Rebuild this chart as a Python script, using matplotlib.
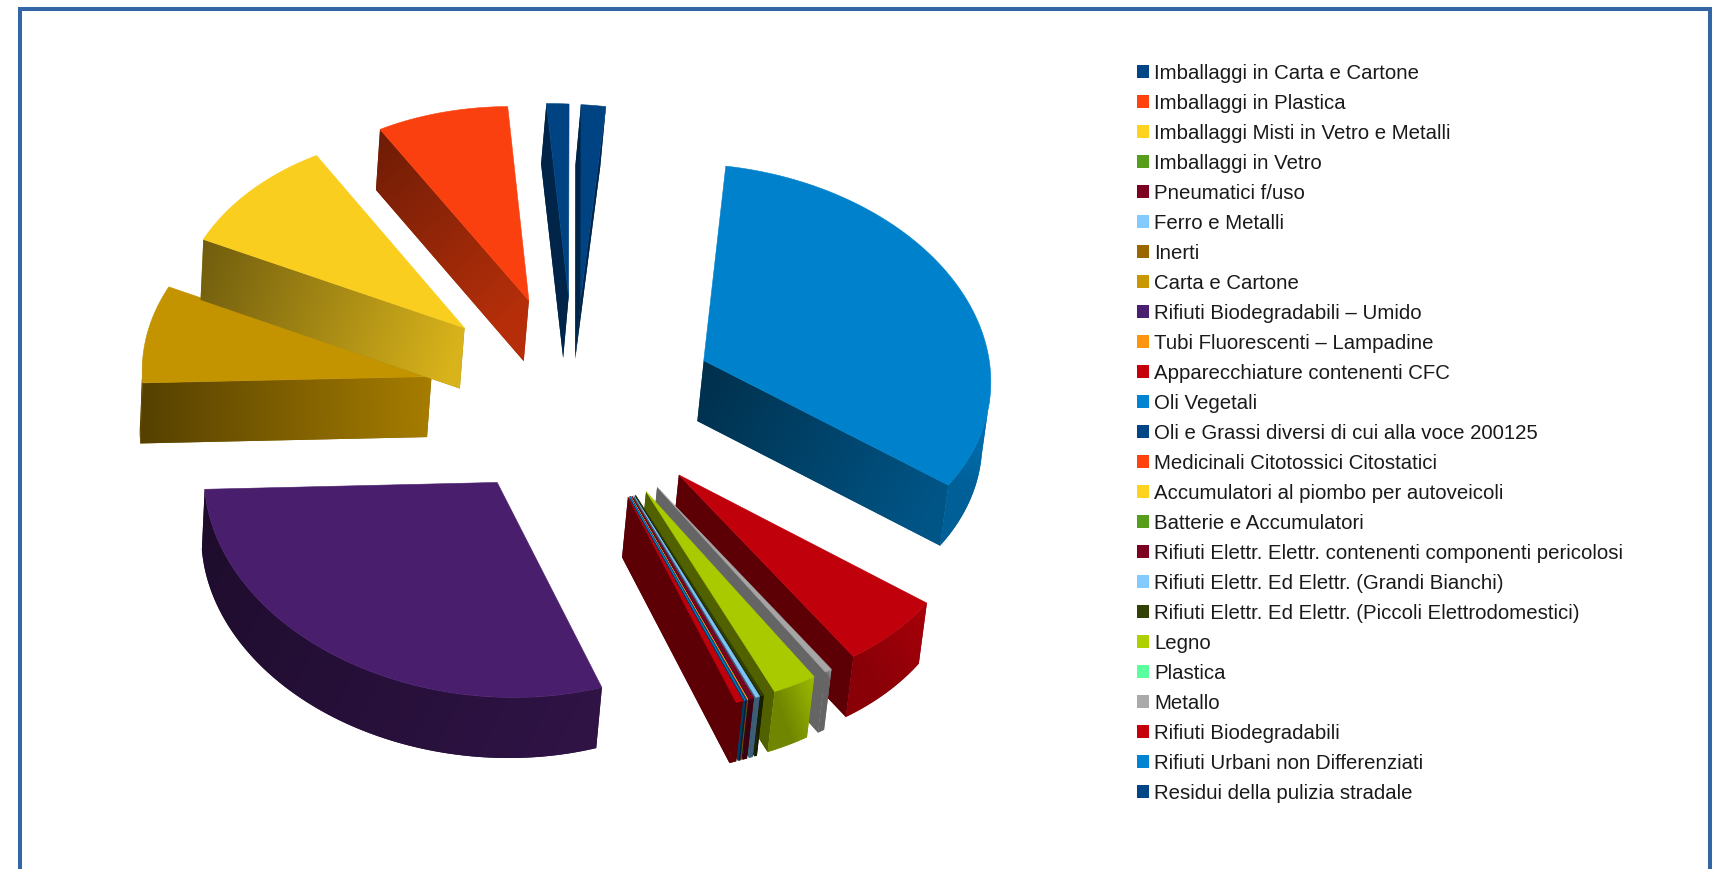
import numpy as np
from matplotlib import pyplot as plt
from matplotlib.colors import to_rgb
from matplotlib.patches import Patch, Polygon

plt.rcParams['font.family'] = ['Liberation Sans', 'DejaVu Sans']

categories = [
  'Imballaggi in Carta e Cartone', 'Imballaggi in Plastica', 'Imballaggi Misti in Vetro e Metalli',
  'Imballaggi in Vetro', 'Pneumatici f/uso', 'Ferro e Metalli', 'Inerti', 'Carta e Cartone',
  'Rifiuti Biodegradabili \u2013 Umido', 'Tubi Fluorescenti \u2013 Lampadine', 'Apparecchiature contenenti CFC',
  'Oli Vegetali', 'Oli e Grassi diversi di cui alla voce 200125', 'Medicinali Citotossici Citostatici',
  'Accumulatori al piombo per autoveicoli', 'Batterie e Accumulatori',
  'Rifiuti Elettr. Elettr. contenenti componenti pericolosi', 'Rifiuti Elettr. Ed Elettr. (Grandi Bianchi)',
  'Rifiuti Elettr. Ed Elettr. (Piccoli Elettrodomestici)', 'Legno', 'Plastica', 'Metallo',
  'Rifiuti Biodegradabili', 'Rifiuti Urbani non Differenziati', 'Residui della pulizia stradale',
]
# share of the total, in percent
values = [
  1.30, 7.73, 9.71, 0, 0, 0, 0, 7.83, 29.23, 0, 0.39, 0.03, 0.06, 0.01, 0.02, 0.02,
  0.26, 0.22, 0.15, 2.45, 0, 0.40, 5.87, 32.88, 1.43,
]
colors = [
  '#004586', '#ff420e', '#ffd320', '#579d1c', '#7e0021', '#83caff', '#996600', '#c99700',
  '#4b1f6f', '#ff950e', '#c5000b', '#0084d1', '#004586', '#ff420e', '#ffd320', '#579d1c',
  '#7e0021', '#83caff', '#314004', '#aecf00', '#5cff9d', '#aaaaaa', '#c5000b', '#0084d1', '#004586',
]

# shading of the walls, dark end to light end: straight wall and curved wall
wall_shade = {
  'Imballaggi in Carta e Cartone': (0.55, 0.55), 'Imballaggi in Plastica': (0.43, 0.71),
  'Imballaggi Misti in Vetro e Metalli': (0.44, 0.85), 'Carta e Cartone': (0.43, 0.83),
  'Rifiuti Urbani non Differenziati': (0.36, 0.65), 'Residui della pulizia stradale': (0.55, 0.55),
  'Metallo': (0.60, 0.60),
}
arc_shade = {
  'Rifiuti Biodegradabili \u2013 Umido': (0.40, 0.62), 'Rifiuti Biodegradabili': (0.70, 0.85),
  'Legno': (0.65, 0.90), 'Metallo': (0.60, 0.95), 'Rifiuti Urbani non Differenziati': (0.72, 0.90),
}

START_ANGLE = 90
EXPLODE = 0.5
DEPTH = 60.5
TOP_SHADE = 0.975
# pie plane to picture pixels
CAMERA = np.array([[289.66, 15.91, 574.23], [14.16, -193.21, 398.30], [0.00102, 0.0271, 1]])


def project(x, y):
  h = CAMERA @ np.array([x, y, np.ones_like(x)])
  return np.column_stack([h[0] / h[2], h[1] / h[2]])


def drop(p):
  # the vertical edges lean a little because of the perspective
  return p + np.column_stack([-1.3 - 0.0073 * p[:, 0], np.full(len(p), DEPTH)])


def draw_wall(ax, top, color, shade, z):
  poly = np.vstack([top, drop(top)[::-1]])
  a, b = top[0], top[-1]
  if a[0] > b[0]:
    a, b = b, a
  x0, y0 = np.floor(poly.min(axis=0)) - 1
  x1, y1 = np.ceil(poly.max(axis=0)) + 1
  X, Y = np.meshgrid(np.arange(x0, x1) + 0.5, np.arange(y0, y1) + 0.5)
  d = b - a
  t = np.clip(((X - a[0]) * d[0] + (Y - a[1]) * d[1]) / max(d @ d, 1), 0, 1)
  rgb = np.clip(np.array(to_rgb(color))[None, None, :] * (shade[0] + (shade[1] - shade[0]) * t)[:, :, None], 0, 1)
  mid = np.array(to_rgb(color)) * (shade[0] + shade[1]) / 2
  ax.add_patch(Polygon(poly, closed=True, fc=mid, ec='none', zorder=z))
  im = ax.imshow(rgb, extent=[x0, x1, y1, y0], aspect='auto', interpolation='bilinear', zorder=z)
  im.set_clip_path(Polygon(poly, closed=True, transform=ax.transData))


fig = plt.figure(figsize=(17.19, 8.69), dpi=100)
ax = fig.add_axes([0, 0, 1, 1])

edges = START_ANGLE + np.r_[0, np.cumsum(values)] / np.sum(values) * 360

# later slices first, so that the earlier ones lie on top of them
for i in reversed(range(len(values))):
  if values[i] == 0:
    continue
  a0, a1 = np.radians(edges[i]), np.radians(edges[i + 1])
  mid = (a0 + a1) / 2
  n = max(3, int(np.degrees(a1 - a0)) + 2)
  ang = np.linspace(a0, a1, n)
  ox, oy = EXPLODE * np.cos(mid), EXPLODE * np.sin(mid)
  apex = project(np.array([ox]), np.array([oy]))
  rim = project(ox + np.cos(ang), oy + np.sin(ang))
  top = np.vstack([apex, rim])
  z = (len(values) - i) * 3
  name = categories[i]

  # a wall shows where the outward side of the edge looks down the picture
  sign = np.sign(np.sum(top[:, 0] * np.roll(top[:, 1], -1) - np.roll(top[:, 0], -1) * top[:, 1]))
  def shows(p, q):
    e = q - p
    return sign * (e[1] * -5 - e[0] * DEPTH) > 0

  straight = wall_shade.get(name, (0.47, 0.47))
  if shows(apex[0], rim[0]):
    draw_wall(ax, np.vstack([apex, rim[:1]]), colors[i], straight, z)
  if shows(rim[-1], apex[0]):
    draw_wall(ax, np.vstack([rim[-1:], apex]), colors[i], straight, z)
  seen = [k for k in range(n - 1) if shows(rim[k], rim[k + 1])]
  if seen:
    draw_wall(ax, rim[seen[0]:seen[-1] + 2], colors[i], arc_shade.get(name, (0.47, 0.47)), z + 1)
  face = np.array(to_rgb(colors[i])) * TOP_SHADE
  ax.add_patch(Polygon(top, closed=True, fc=face, ec=face, lw=0.4, zorder=z + 2))

# chart frame, open at the bottom
ax.plot([20, 20, 1710, 1710], [869, 9, 9, 869], color='#3465a4', lw=2.9, solid_joinstyle='miter', zorder=200)

handles = [Patch(fc=c, ec='none') for c in colors]
ax.legend(
  handles, categories, loc='upper left', bbox_to_anchor=(1137, 64), bbox_transform=ax.transData,
  frameon=False, fontsize=14.65, labelcolor='#1a1a1a', handlelength=0.61, handleheight=0.61,
  handletextpad=0.22, labelspacing=0.54, borderpad=0, borderaxespad=0,
).set_zorder(300)

ax.set_xlim(0, 1719)
ax.set_ylim(869, 0)
ax.axis('off')
fig.savefig('out.png', dpi=100, facecolor='white')
